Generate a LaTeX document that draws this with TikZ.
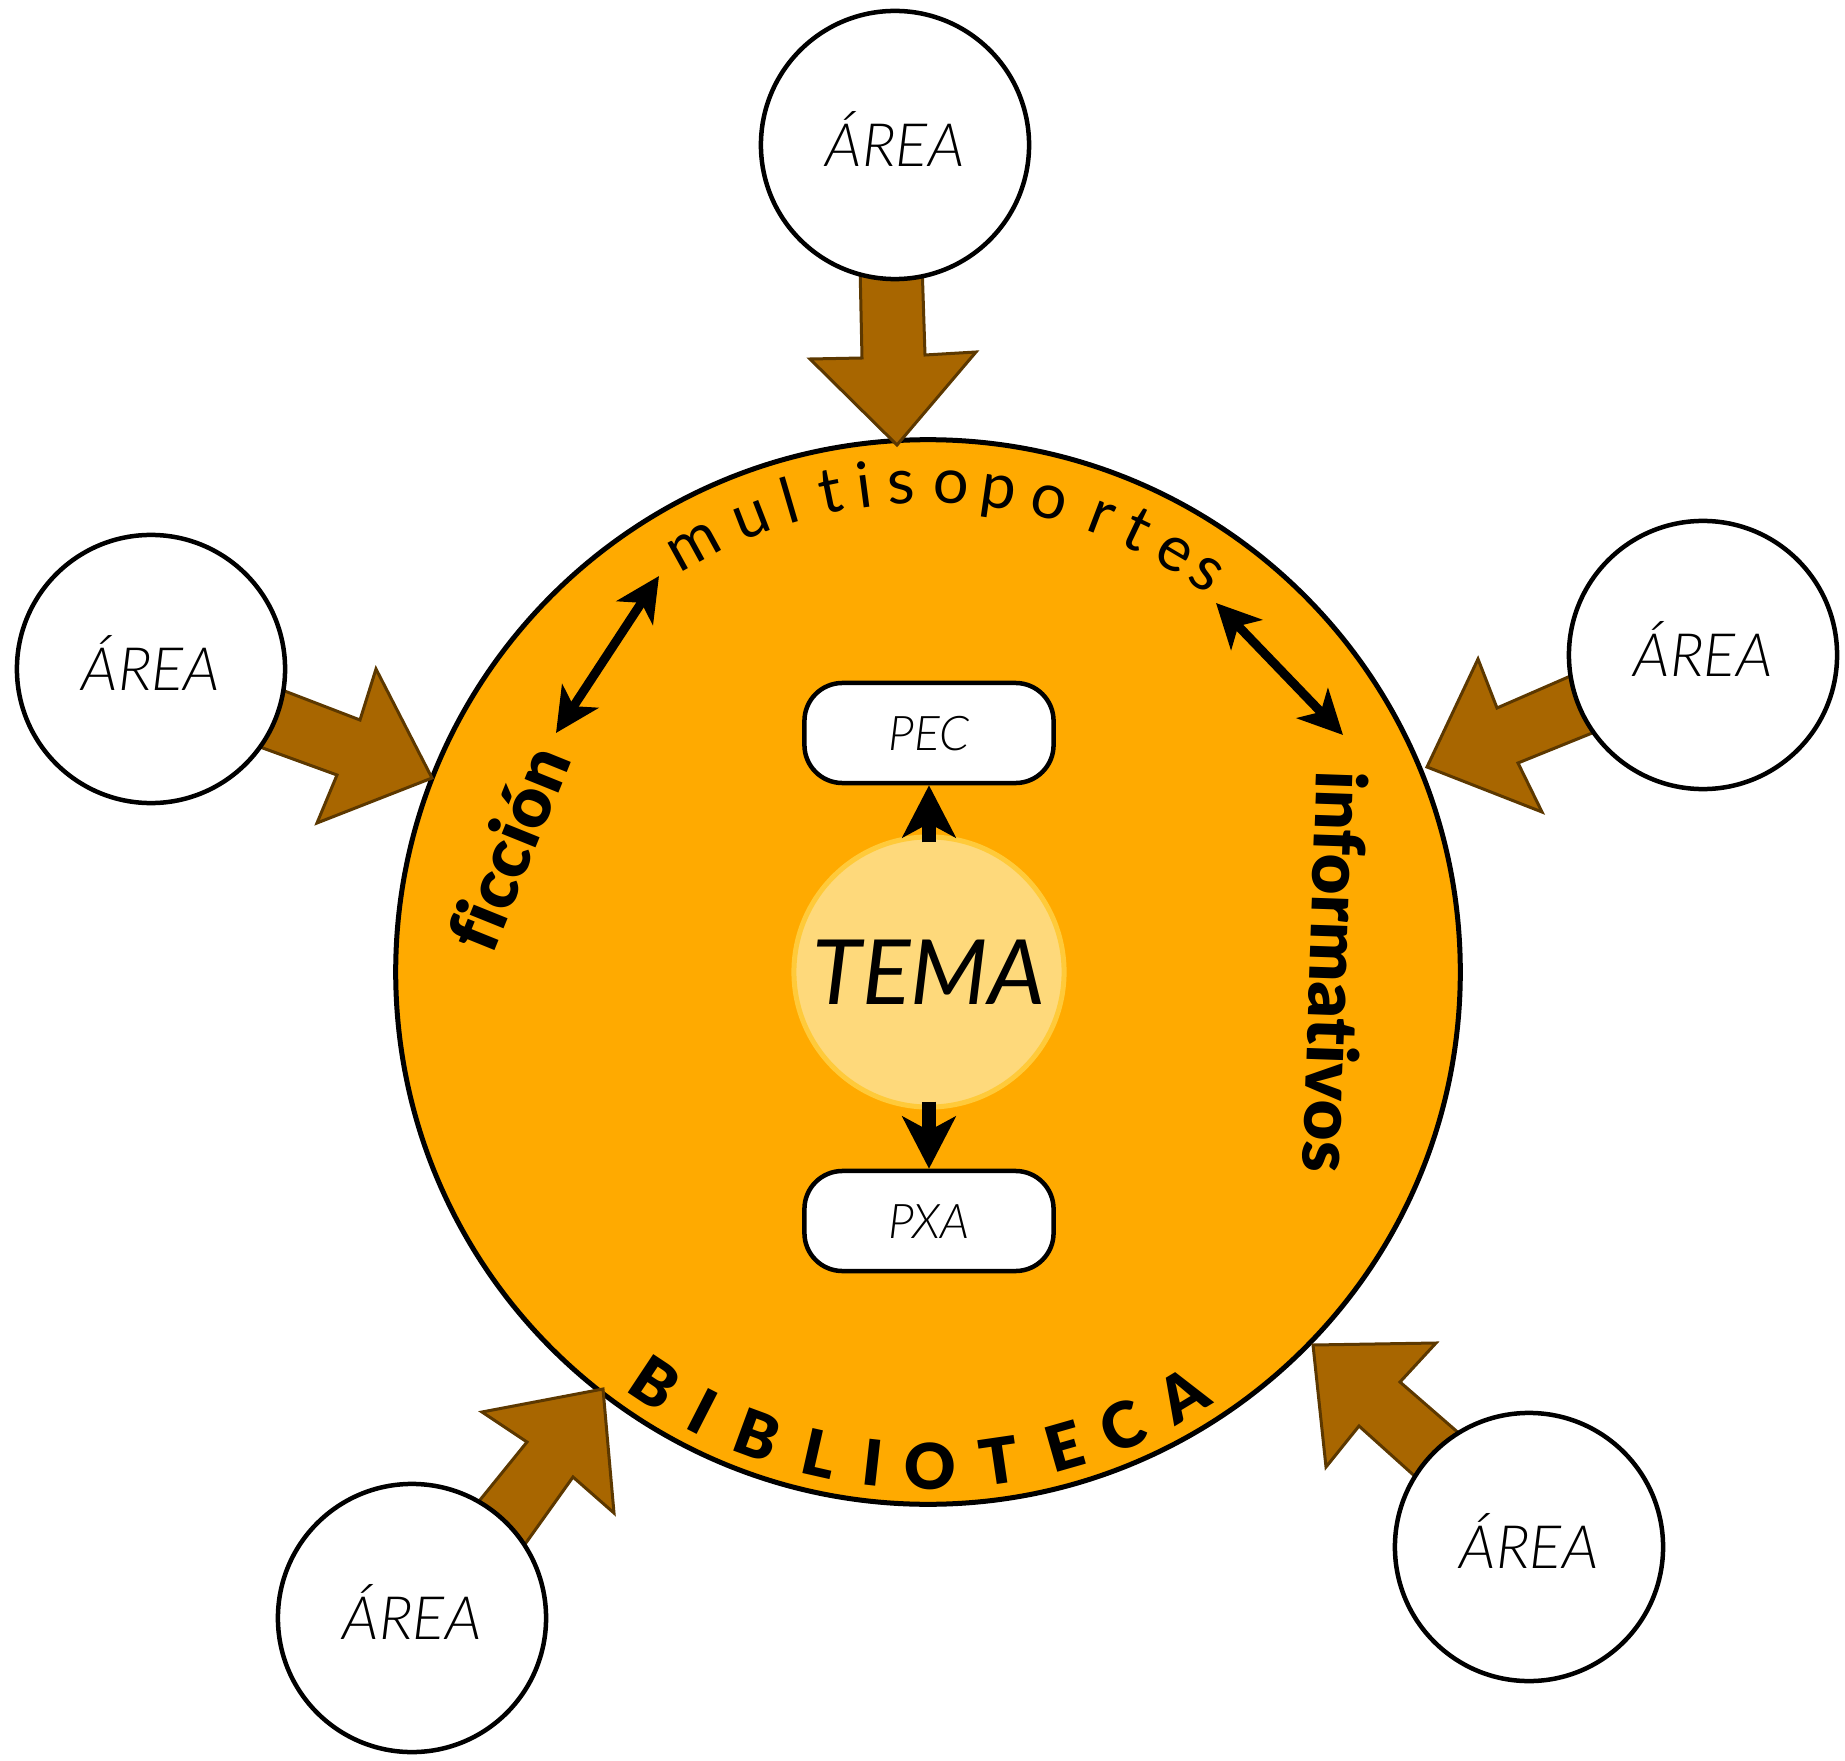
\documentclass[tikz,border=0pt]{standalone}
\usepackage{fontspec}
\setmainfont{Lato}
\newfontfamily\lightit{Lato Light Italic}
\newfontfamily\blackfont{Lato Black}[Ligatures={NoCommon}]
\usetikzlibrary{arrows.meta}
\definecolor{mainorange}{HTML}{FFAA00}
\definecolor{brownfill}{HTML}{A86600}
\definecolor{brownline}{HTML}{5C3800}
\definecolor{temafill}{HTML}{FED97B}
\definecolor{temaline}{HTML}{FFCA3A}
\begin{document}
\begin{tikzpicture}[x=0.01cm,y=-0.01cm,
  areacircle/.style={circle,draw=black,fill=white,line width=0.045cm,minimum size=2.68cm,inner sep=0pt,text height=12.2pt,text depth=0pt,font=\lightit\fontsize{17}{17}\selectfont},
  blockarrow/.style={fill=brownfill,draw=brownline,line width=0.03cm,line join=miter},
  planbox/.style={rectangle,rounded corners=0.38cm,draw=black,fill=white,line width=0.045cm,minimum width=2.49cm,minimum height=1.0cm,inner sep=0pt,text height=9.8pt,text depth=0pt,font=\lightit\fontsize{13.6}{13.6}\selectfont},
  thickarrow/.style={line width=0.14cm,shorten <=-0.08cm,-{Stealth[length=0.52cm,width=0.53cm,inset=0.14cm]}},
  dblarrow/.style={line width=0.09cm,{Stealth[length=0.44cm,width=0.43cm,inset=0.12cm]}-{Stealth[length=0.44cm,width=0.43cm,inset=0.12cm]}},
  arcletter/.style={inner sep=0pt,anchor=base},
  toplabel/.style={arcletter,font=\fontsize{18}{18}\selectfont},
  botlabel/.style={arcletter,font=\blackfont\fontsize{18}{18}\selectfont},
  sidelabel/.style={inner sep=0pt,font=\blackfont\fontsize{20}{20}\selectfont},
]
\useasboundingbox (0,0) rectangle (1845,1761);

% main circle
\node[circle,draw=black,fill=mainorange,line width=0.05cm,minimum size=10.64cm,inner sep=0pt] (bib) at (928,972) {};

% block arrows
\draw[blockarrow] (860,265)--(922,263)--(925,355)--(976,352)--(897,445)--(810,359)--(862,358)--cycle;
\draw[blockarrow] (269,685)--(360,720)--(376,669)--(432,778)--(317,823)--(337,775)--(249,743)--cycle;
\draw[blockarrow] (1582,671)--(1497,708)--(1478,659)--(1427,767)--(1542,812)--(1518,763)--(1607,727)--cycle;
\draw[blockarrow] (467,1516)--(527,1442)--(482,1412)--(603,1389)--(614,1513)--(573,1477)--(518,1554)--cycle;
\draw[blockarrow] (1313,1345)--(1436,1343)--(1400,1382)--(1469,1442)--(1429,1489)--(1359,1426)--(1326,1467)--cycle;

% area circles
\node[areacircle] (a1) at (895,145) {ÁREA};
\node[areacircle] (a2) at (151,669) {ÁREA};
\node[areacircle] (a3) at (1703,655) {ÁREA};
\node[areacircle] (a4) at (412,1618) {ÁREA};
\node[areacircle] (a5) at (1529,1547) {ÁREA};

% arc texts
\foreach \l/\a [count=\i] in {m/118.8,u/111.2,l/106.4,t/101.5,i/97.5,s/93.2,o/87.3,p/81.7,o/75.6,r/69.1,t/64.6,e/59.5,s/55.1}
  \node[toplabel,rotate=\a-90] (ms\i) at ({928+469*cos(\a)},{972-469*sin(\a)}) {\l};
\foreach \l/\a [count=\i] in {B/-123.6,I/-117.1,B/-110.2,L/-102.7,I/-96.4,O/-89.8,T/-81.7,E/-74.0,C/-66.8,A/-58.9}
  \node[botlabel,rotate=\a+90] (bl\i) at ({928+517*cos(\a)},{972-517*sin(\a)}) {\l};

\node[sidelabel,rotate=68] (fic) at (508,848) {ficción};
\node[sidelabel,rotate=-92] (inf) at (1336,972) {informativos};

% double arrows
\coordinate (fa1) at (659,576);
\coordinate (fa2) at (556,733);
\draw[dblarrow] (fa2) -- (fa1);
\coordinate (ia1) at (1216,603);
\coordinate (ia2) at (1343,735);
\draw[dblarrow] (ia1) -- (ia2);

% centre
\node[circle,fill=temafill,draw=temaline,line width=0.05cm,minimum size=2.7cm,inner sep=0pt,font=\itshape\fontsize{25.6}{25.6}\selectfont] (tema) at (929,972) {TEMA};
\node[planbox] (pec) at (929,733) {PEC};
\node[planbox] (pxa) at (929,1221) {PXA};
\draw[thickarrow] (tema.north) -- (pec.south);
\draw[thickarrow] (tema.south) -- (pxa.north);
\end{tikzpicture}
\end{document}
